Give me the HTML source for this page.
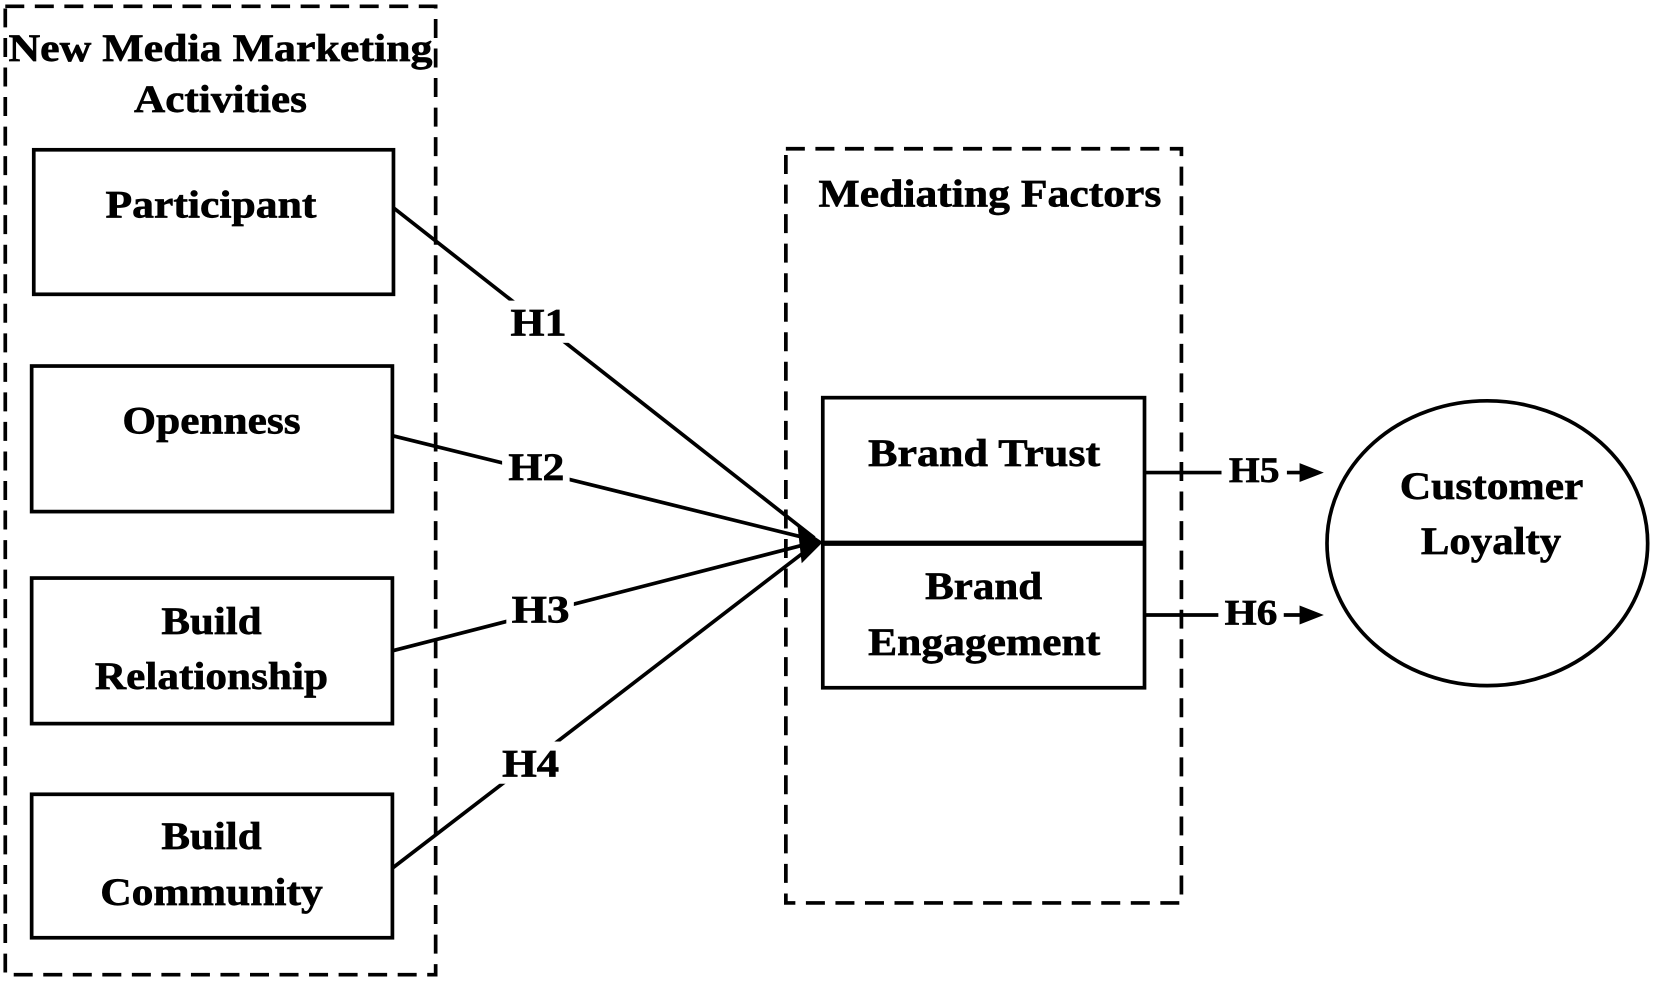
<!DOCTYPE html>
<html><head><style>html,body{margin:0;padding:0;background:#fff}svg{display:block}</style></head>
<body>
<svg width="1654" height="981" viewBox="0 0 1568 930" xmlns="http://www.w3.org/2000/svg" font-family="'Liberation Serif', serif" font-weight="bold">
<g fill="none" stroke="#000" stroke-width="3.5" stroke-dasharray="18,10">
<rect x="5" y="6" width="408" height="918"/>
<rect x="745" y="141" width="375" height="715"/>
</g>
<g fill="none" stroke="#000" stroke-width="3.5">
<rect x="32" y="142" width="341" height="137"/>
<rect x="30" y="347" width="342" height="138"/>
<rect x="30" y="548" width="342" height="138"/>
<rect x="30" y="753" width="342" height="136"/>
<rect x="780" y="377" width="305" height="275"/>
<ellipse cx="1410" cy="515" rx="152" ry="135"/>
</g>
<line x1="780" y1="515" x2="1085" y2="515" stroke="#000" stroke-width="5"/>
<g stroke="#000" stroke-width="3.5">
<line x1="373" y1="197" x2="772" y2="510"/>
<line x1="372" y1="413" x2="772" y2="512"/>
<line x1="372" y1="617" x2="772" y2="514"/>
<line x1="372" y1="823" x2="772" y2="516"/>
<line x1="1085" y1="448" x2="1240" y2="448"/>
<line x1="1085" y1="583" x2="1240" y2="583"/>
</g>
<path d="M756,498 L780,514 L760,534 z" fill="#000"/>
<path d="M1232,439 L1255,448 L1232,457 z" fill="#000"/>
<path d="M1232,574 L1255,583 L1232,592 z" fill="#000"/>
<g fill="#fff">
<rect x="478" y="285" width="64" height="40"/>
<rect x="476" y="422" width="64" height="40"/>
<rect x="480" y="557" width="64" height="40"/>
<rect x="470" y="703" width="64" height="40"/>
<rect x="1158" y="428" width="62" height="40"/>
<rect x="1155" y="563" width="62" height="40"/>
</g>
<g font-size="37" fill="#000" stroke="#000" stroke-width="0.6">
<text x="484" y="318" textLength="53" lengthAdjust="spacingAndGlyphs">H1</text>
<text x="482" y="455" textLength="53" lengthAdjust="spacingAndGlyphs">H2</text>
<text x="485" y="590" textLength="55" lengthAdjust="spacingAndGlyphs">H3</text>
<text x="476" y="736" textLength="54" lengthAdjust="spacingAndGlyphs">H4</text>
<text x="1165" y="457" font-size="34" textLength="48" lengthAdjust="spacingAndGlyphs">H5</text>
<text x="1161" y="592" font-size="34" textLength="50" lengthAdjust="spacingAndGlyphs">H6</text>
<text x="8" y="58" textLength="402" lengthAdjust="spacingAndGlyphs">New Media Marketing</text>
<text x="127" y="106" textLength="164" lengthAdjust="spacingAndGlyphs">Activities</text>
<text x="100" y="206" textLength="200" lengthAdjust="spacingAndGlyphs">Participant</text>
<text x="116" y="411" textLength="169" lengthAdjust="spacingAndGlyphs">Openness</text>
<text x="153" y="601" textLength="95" lengthAdjust="spacingAndGlyphs">Build</text>
<text x="90" y="653" textLength="221" lengthAdjust="spacingAndGlyphs">Relationship</text>
<text x="153" y="805" textLength="95" lengthAdjust="spacingAndGlyphs">Build</text>
<text x="95" y="858" textLength="211" lengthAdjust="spacingAndGlyphs">Community</text>
<text x="776" y="196" textLength="325" lengthAdjust="spacingAndGlyphs">Mediating Factors</text>
<text x="823" y="442" textLength="220" lengthAdjust="spacingAndGlyphs">Brand Trust</text>
<text x="877" y="568" textLength="111" lengthAdjust="spacingAndGlyphs">Brand</text>
<text x="823" y="621" textLength="220" lengthAdjust="spacingAndGlyphs">Engagement</text>
<text x="1327" y="473" textLength="174" lengthAdjust="spacingAndGlyphs">Customer</text>
<text x="1347" y="525" textLength="133" lengthAdjust="spacingAndGlyphs">Loyalty</text>
</g>
</svg>
</body></html>
